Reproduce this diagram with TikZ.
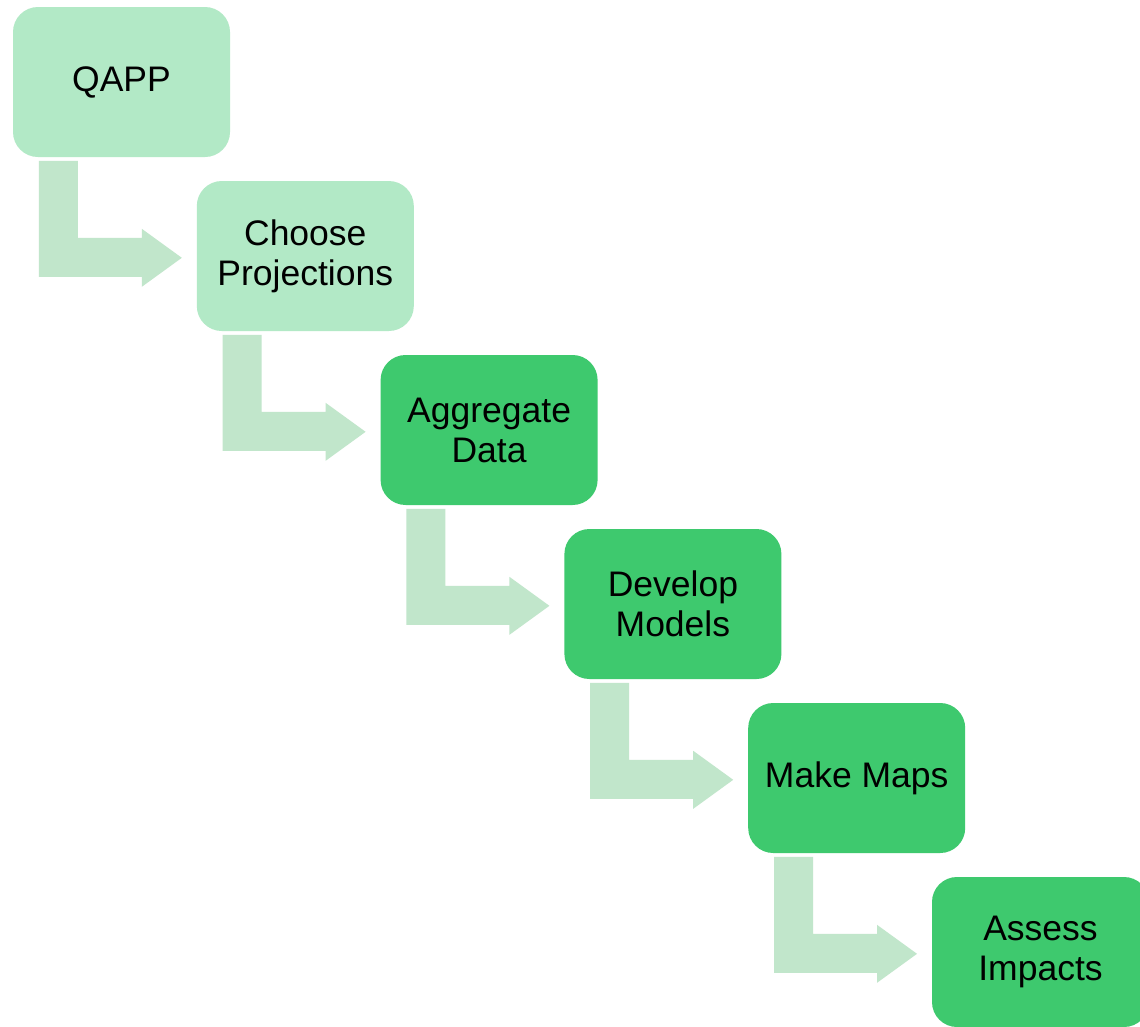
\documentclass[tikz,border=0pt]{standalone}
\usepackage{fontspec}
\setmainfont{Liberation Sans}
\definecolor{lightbox}{RGB}{178,233,198}
\definecolor{darkbox}{RGB}{62,201,110}
\definecolor{arrowcol}{RGB}{193,230,203}
\begin{document}
\begin{tikzpicture}[x=1pt,y=-1pt,
  stepbox/.style={rounded corners=25pt, minimum width=217pt, minimum height=150pt,
    inner sep=0pt, align=center, font=\fontsize{35.5}{40}\selectfont, text=black},
  lightstep/.style={stepbox, fill=lightbox},
  darkstep/.style={stepbox, fill=darkbox},
  bentarrow/.style={fill=arrowcol, draw=none}]
\useasboundingbox (0,0) rectangle (1140,1026);
\fill[white] (0,0) rectangle (1140,1026);
\node[lightstep] (b1) at (121.5,82) {QAPP};
\node[lightstep] (b2) at (305.3,256) {Choose\\Projections};
\node[darkstep] (b3) at (489.1,430) {Aggregate\\Data};
\node[darkstep] (b4) at (672.9,604) {Develop\\Models};
\node[darkstep] (b5) at (856.7,778) {Make Maps};
\node[darkstep] (b6) at (1040.5,952) {Assess\\Impacts};
\foreach \a in {b1,b2,b3,b4,b5}{
  \begin{scope}[shift={(\a.north west)}]
    \fill[bentarrow] (26,154) -- (65,154) -- (65,231) -- (129,231) -- (129,222)
      -- (169,251) -- (129,280) -- (129,270) -- (26,270) -- cycle;
  \end{scope}
}
\end{tikzpicture}
\end{document}
